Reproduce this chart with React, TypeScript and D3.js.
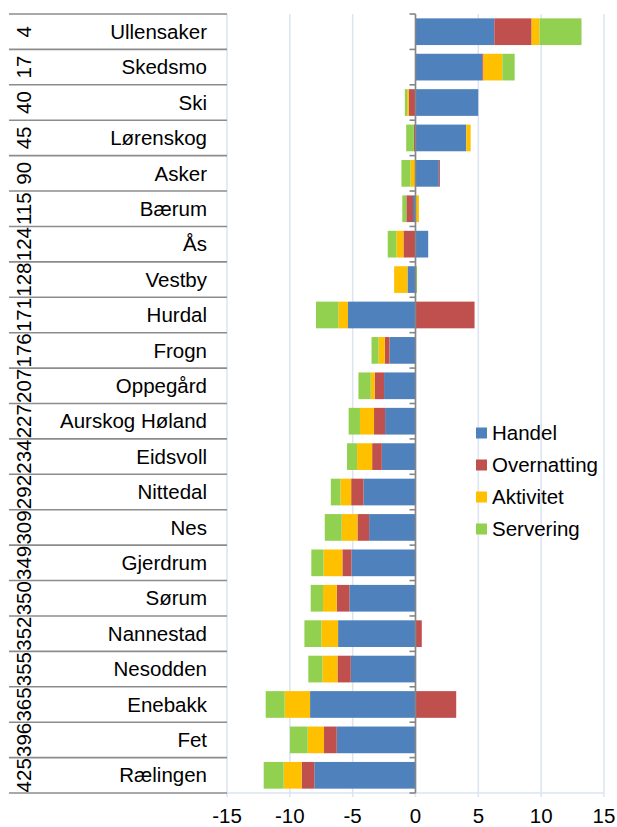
import React from "react";
import * as d3 from "d3";

const names = ["Ullensaker","Skedsmo","Ski","Lørenskog","Asker","Bærum","Ås","Vestby","Hurdal","Frogn","Oppegård","Aurskog Høland","Eidsvoll","Nittedal","Nes","Gjerdrum","Sørum","Nannestad","Nesodden","Enebakk","Fet","Rælingen"];
const ranks = ["4","17","40","45","90","115","124","128","171","176","207","227","234","292","309","349","350","352","355","365","396","425"];
const handel = [6.27,5.31,4.99,4.04,1.86,-0.2,1.01,-0.64,-5.37,-2.07,-2.5,-2.42,-2.68,-4.14,-3.69,-5.1,-5.26,-6.16,-5.15,-8.39,-6.27,-8.05];
const overnatting = [2.97,0.1,-0.53,-0.13,0.08,-0.53,-0.96,0,4.7,-0.37,-0.74,-0.88,-0.77,-0.98,-0.93,-0.72,-1.01,0.5,-1.06,3.24,-1.01,-1.01];
const aktivitet = [0.62,1.5,-0.13,0.35,-0.4,0.27,-0.56,-1.06,-0.77,-0.5,-0.32,-1.12,-1.2,-0.85,-1.25,-1.51,-1.09,-1.33,-1.2,-2.02,-1.3,-1.43];
const servering = [3.35,0.98,-0.19,-0.61,-0.72,-0.32,-0.69,0.12,-1.78,-0.56,-0.98,-0.9,-0.8,-0.77,-1.35,-0.96,-0.98,-1.35,-1.12,-1.51,-1.41,-1.59];
const seriesNames = ["Handel","Overnatting","Aktivitet","Servering"];
const seriesColors = ["#4F81BD","#C0504D","#FFC000","#92D050"];
const xTicks = [-15,-10,-5,0,5,10,15];

const W = 617, H = 827;
const FONT = "'Liberation Sans', Arial, sans-serif";
const FS = 20.5;

export default function App() {
  const rows = names.map((n, i) => ({
    name: n,
    Handel: handel[i],
    Overnatting: overnatting[i],
    Aktivitet: aktivitet[i],
    Servering: servering[i],
  }));
  const stacked = d3.stack<any>().keys(seriesNames).offset(d3.stackOffsetDiverging)(rows);
  const x = d3.scaleLinear().domain([-15, 15]).range([227, 604]);
  const y = d3.scaleBand<string>().domain(names).range([14, 793]).paddingInner(0.246).paddingOuter(0.123);
  const step = y.step();
  const top = 14, bottom = 793;
  const tableLeft = 9, tableRight = 227, colSplit = 53;

  return (
    <div style={{ position: "absolute", left: 0, top: 0 }}>
      <svg width={W} height={H} style={{ display: "block", fontFamily: FONT }}>
        <rect width={W} height={H} fill="#fff" />
        {/* gridlines */}
        {xTicks.map((t) => (
          <line key={"g" + t} x1={x(t)} x2={x(t)} y1={top} y2={bottom + 4} stroke="#dbe4f1" strokeWidth={1.5} />
        ))}
        <line x1={x(-15)} x2={x(15)} y1={bottom} y2={bottom} stroke="#dbe4f1" strokeWidth={1.5} />
        {/* table lines */}
        {d3.range(names.length + 1).map((i) => {
          const yy = top + i * step;
          return (
            <g key={"tl" + i}>
              <line x1={tableLeft} x2={colSplit} y1={yy} y2={yy} stroke="#8c8c8c" strokeWidth={1.6} />
              <line x1={colSplit} x2={tableRight} y1={yy} y2={yy} stroke="#8c8c8c" strokeWidth={1.6} />
            </g>
          );
        })}
        {/* bars */}
        {stacked.map((s, si) => (
          <g key={s.key} fill={seriesColors[si]}>
            {s.map((d, i) => {
              const x0 = x(Math.min(d[0], d[1]));
              const x1 = x(Math.max(d[0], d[1]));
              if (x1 - x0 <= 0) return null;
              return <rect key={i} x={x0} width={x1 - x0} y={y(names[i])} height={y.bandwidth()} />;
            })}
          </g>
        ))}
        {/* zero axis */}
        <line x1={x(0)} x2={x(0)} y1={top} y2={bottom} stroke="#868686" strokeWidth={1.6} />
        {d3.range(names.length + 1).map((i) => {
          const yy = top + i * step;
          return <line key={"zt" + i} x1={x(0) - 6} x2={x(0)} y1={yy} y2={yy} stroke="#868686" strokeWidth={1.6} />;
        })}
        {/* category labels */}
        {names.map((n, i) => {
          const cy = (y(n) as number) + y.bandwidth() / 2;
          return (
            <g key={"lab" + i}>
              <text x={207} y={cy} dy="0.35em" textAnchor="end" fontSize={FS} fill="#000">{n}</text>
              <text transform={`translate(31,${cy}) rotate(-90)`} textAnchor="middle" fontSize={FS} fill="#000">{ranks[i]}</text>
            </g>
          );
        })}
        {/* x tick labels */}
        {xTicks.map((t) => (
          <text key={"xt" + t} x={x(t)} y={823} textAnchor="middle" fontSize={FS} fill="#000">{t}</text>
        ))}
        {/* legend */}
        {seriesNames.map((s, i) => {
          const cy = 433 + i * 32;
          return (
            <g key={"lg" + s}>
              <rect x={476} y={cy - 5.5} width={11} height={11} fill={seriesColors[i]} />
              <text x={492} y={cy + 7} fontSize={FS} fill="#000">{s}</text>
            </g>
          );
        })}
      </svg>
    </div>
  );
}
